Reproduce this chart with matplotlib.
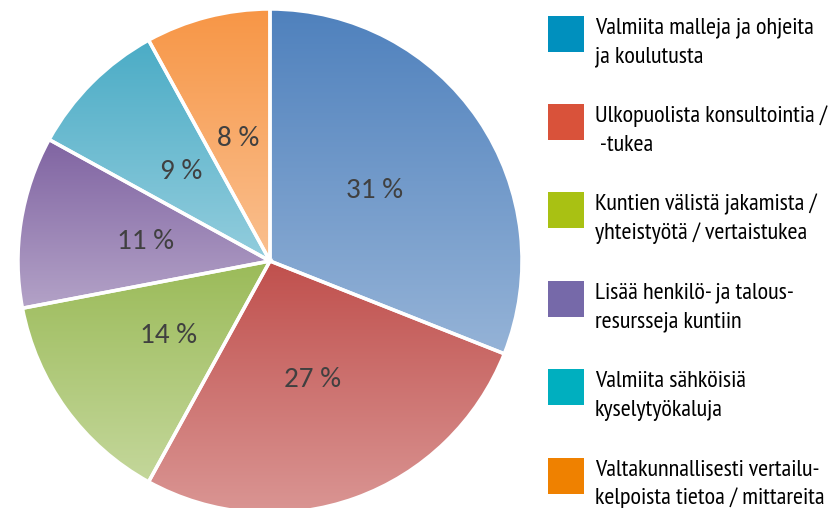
import numpy as np
import matplotlib
matplotlib.use("Agg")
import matplotlib.pyplot as plt
from matplotlib.colors import to_rgb
from matplotlib.patches import Rectangle

# data
labels = [
    "Valmiita malleja ja ohjeita\nja koulutusta",
    "Ulkopuolista konsultointia /\n -tukea",
    "Kuntien välistä jakamista /\nyhteistyötä / vertaistukea",
    "Lisää henkilö- ja talous-\nresursseja kuntiin",
    "Valmiita sähköisiä\nkyselytyökaluja",
    "Valtakunnallisesti vertailu-\nkelpoista tietoa / mittareita",
]
values = [31, 27, 14, 11, 9, 8]
legend_colors = ["#0090BE", "#D9523A", "#A9C113", "#7669A9", "#00AFBF", "#EF8100"]
grad_top = ["#4F81BD", "#C0504D", "#9BBB59", "#8064A2", "#4BACC6", "#F79646"]
grad_bottom = ["#95B3D7", "#DA9694", "#C4D79B", "#B3A2C7", "#93CDDD", "#FAC090"]

W, H = 838, 508
fig = plt.figure(figsize=(W / 100, H / 100), dpi=100)
ax = fig.add_axes([0, 0, 1, 1])

cx, cy, r = 270, H - 261, 252
wedges, texts, autotexts = ax.pie(
    values, startangle=90, counterclock=False, center=(cx, cy), radius=r,
    autopct=lambda p: f"{p:.0f} %", pctdistance=0.5,
    wedgeprops=dict(facecolor="none", edgecolor="white", linewidth=2.5),
    textprops=dict(color="#404040", fontsize=21, family=["Carlito", "DejaVu Sans"]),
)

# vertical gradient fill clipped to each wedge
for w, c1, c2 in zip(wedges, grad_top, grad_bottom):
    w.set_zorder(3)
    pts = w.get_patch_transform().transform(w.get_path().vertices)
    x0, x1 = pts[:, 0].min(), pts[:, 0].max()
    y0, y1 = pts[:, 1].min(), pts[:, 1].max()
    t = np.linspace(0, 1, 256)[:, None]
    a, b = np.array(to_rgb(c1)), np.array(to_rgb(c2))
    img = (a * (1 - t) + b * t)[:, None, :]
    im = ax.imshow(img, extent=[x0, x1, y0, y1], origin="upper",
                   aspect="auto", zorder=2, interpolation="bilinear")
    im.set_clip_path(w)
for t in autotexts:
    t.set_zorder(4)

# legend
for i, (lab, col) in enumerate(zip(labels, legend_colors)):
    base = 33.5 + i * 88.4
    ax.add_patch(Rectangle((548, H - base + 18 - 36), 36, 36, facecolor=col,
                           edgecolor="none", zorder=3))
    for k, line in enumerate(lab.split("\n")):
        ax.text(595, H - base - k * 28.8, line, fontsize=17.5, va="baseline", ha="left",
                color="black", family=["PT Sans Narrow", "DejaVu Sans"], zorder=3)

ax.set_xlim(0, W)
ax.set_ylim(0, H)
ax.set_aspect("equal")
ax.axis("off")

fig.savefig("out.png", dpi=100)
